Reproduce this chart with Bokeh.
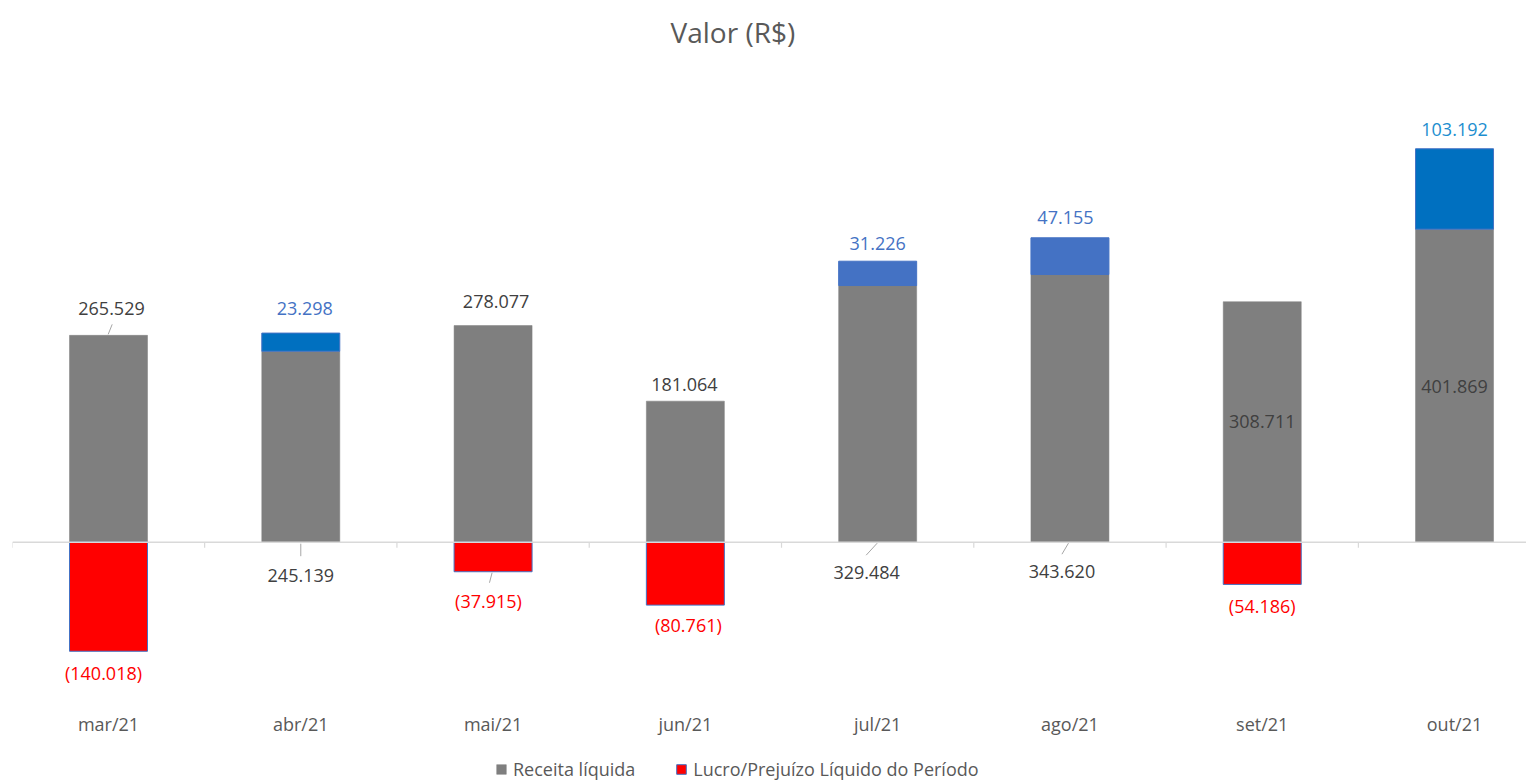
import numpy as np
from bokeh.plotting import figure
from bokeh.layouts import column
from bokeh.models import Range1d, FixedTicker, Legend, LegendItem, ColumnDataSource, Span
from bokeh.core.properties import value
from bokeh.embed import file_html
from bokeh.resources import INLINE

# ---------------- data ----------------
meses = ["mar/21", "abr/21", "mai/21", "jun/21", "jul/21", "ago/21", "set/21", "out/21"]
receita = [265529, 245139, 278077, 181064, 329484, 343620, 308711, 401869]
lucro = [-140018, 23298, -37915, -80761, 31226, 47155, -54186, 103192]
series = ["Receita líquida", "Lucro/Prejuízo Líquido do Período"]

# ---------------- styles ----------------
GRAY = "#7F7F7F"
RED = "#FF0000"
EDGE = "#4472C4"
pos_colors = {1: "#0070C0", 4: "#4472C4", 5: "#4472C4", 7: "#0070C0"}
pos_label_colors = {1: "#4472C4", 4: "#4472C4", 5: "#4472C4", 7: "#1C8ECF"}
TXT = "#404040"
FONT = "Open Sans"

# label placement styles (anchor + pixel offsets, screen px; +dy = down)
gray_anchor = ["top", "zero", "top", "top", "zero", "zero", "mid", "mid"]
gray_dx = [3, 0, 3, -1, -11, -8, 0, 0]
gray_dy = [-27, 33, -24, -17, 30, 29, 0, 1]
luc_dx = [-5, 4, -4.6, 3, 0, -4.5, 0, 0]
luc_dy = [22, -24.6, 29, 20, -18, -20.6, 22, -19.5]

W = 1526
H1, H2 = 745, 37
B_LEFT, B_RIGHT, B_TOP, B_BOTTOM = 12, 0, 60, 40
FW = W - B_LEFT - B_RIGHT
FH = H1 - B_TOP - B_BOTTOM
ZERO_FROM_TOP = 541.7 - B_TOP
CAT_PX = 192.29
xs = -96.0 / CAT_PX
xe = xs + FW / CAT_PX
PXY = 0.000779
ymax = ZERO_FROM_TOP / PXY
ymin = -(FH - ZERO_FROM_TOP) / PXY
PXX = CAT_PX  # px per x unit


def dx_data(px):
    return px / PXX


def dy_data(px):
    # screen px down -> data units
    return -px / PXY


def fmt(v):
    s = f"{abs(v):,}".replace(",", ".")
    return f"({s})" if v < 0 else s


p = figure(width=W, height=H1, output_backend="svg", toolbar_location=None,
           x_range=Range1d(xs, xe), y_range=Range1d(ymin, ymax),
           min_border_left=B_LEFT, min_border_right=B_RIGHT,
           min_border_top=B_TOP, min_border_bottom=B_BOTTOM)
p.outline_line_color = None
p.grid.visible = False
p.yaxis.visible = False
p.background_fill_color = "white"
p.border_fill_color = "white"

# title
p.title.text = "Valor (R$)"
p.title.text_font = FONT
p.title.text_font_size = "28px"
p.title.text_font_style = "normal"
p.title.text_color = "#595959"
p.title.align = "left"
p.title.offset = 658
p.title.standoff = 20

x = np.arange(len(meses))
rec = np.array(receita, dtype=float)
luc = np.array(lucro, dtype=float)

BW = 78.0 / CAT_PX

# gray bars
gray_style = dict(fill_color=GRAY, line_color=GRAY, line_width=0.5)
p.vbar(x=x, top=rec, bottom=0, width=BW, **gray_style)

# positive profit on top of revenue
pos = luc > 0
pos_idx = x[pos]
pos_src = ColumnDataSource(dict(x=pos_idx, bottom=rec[pos], top=rec[pos] + luc[pos],
                                color=[pos_colors[i] for i in pos_idx]))
p.vbar(x="x", bottom="bottom", top="top", width=BW, fill_color="color", line_color=EDGE,
       line_width=1, source=pos_src)

# negative profit below zero
red_style = dict(fill_color=RED, line_color=EDGE, line_width=1)
neg = luc < 0
neg_src = ColumnDataSource(dict(x=x[neg], bottom=luc[neg], top=np.zeros(neg.sum())))
p.vbar(x="x", bottom="bottom", top="top", width=BW, source=neg_src, **red_style)

# zero line
p.add_layout(Span(location=0, dimension="width", line_color="#D9D9D9", line_width=1.5, level="overlay"))
# category boundary ticks
bx = np.arange(len(meses) + 1) - 0.5
p.segment(x0=bx, y0=np.zeros(len(bx)), x1=bx, y1=np.full(len(bx), dy_data(5.5)),
          line_color="#D9D9D9", line_width=1.2)

# gray labels
gy = []
for i in range(len(meses)):
    a = gray_anchor[i]
    gy.append(rec[i] if a == "top" else (0 if a == "zero" else rec[i] / 2))
p.text(x=x, y=gy, text=[fmt(v) for v in receita], x_offset=gray_dx, y_offset=gray_dy,
       text_align="center", text_baseline="middle", text_font=value(FONT),
       text_font_size="18px", text_color=TXT)

# profit labels
ly = [rec[i] + luc[i] if luc[i] > 0 else luc[i] for i in range(len(meses))]
lcol = [pos_label_colors[i] if luc[i] > 0 else RED for i in range(len(meses))]
p.text(x=x, y=ly, text=[fmt(v) for v in lucro], x_offset=luc_dx, y_offset=luc_dy,
       text_align="center", text_baseline="middle", text_font=value(FONT),
       text_font_size="18px", text_color=lcol)

# leader lines (anchor index, anchor y, start px, end px)
leaders = [
    (0, rec[0], (3.7, -11), (-0.3, -1)),
    (1, 0.0, (0, 1.5), (0, 14)),
    (2, luc[2], (-1, 1), (-3.6, 11)),
    (4, 0.0, (-0.5, 1), (-11.5, 13)),
    (5, 0.0, (-1.5, 1), (-8, 12)),
]
p.segment(x0=[i + dx_data(s[0]) for i, yy, s, e in leaders],
          y0=[yy + dy_data(s[1]) for i, yy, s, e in leaders],
          x1=[i + dx_data(e[0]) for i, yy, s, e in leaders],
          y1=[yy + dy_data(e[1]) for i, yy, s, e in leaders],
          line_color="#A6A6A6", line_width=1)

# x axis (category labels)
p.xaxis.ticker = FixedTicker(ticks=list(range(len(meses))), minor_ticks=[])
p.xaxis.major_label_overrides = {i: m for i, m in enumerate(meses)}
p.xaxis.axis_line_color = None
p.xaxis.major_tick_line_color = None
p.xaxis.minor_tick_line_color = None
p.xaxis.major_tick_out = 0
p.xaxis.major_tick_in = 0
p.xaxis.major_label_text_font = FONT
p.xaxis.major_label_text_font_size = "18px"
p.xaxis.major_label_text_color = "#595959"
p.xaxis.major_label_standoff = 6

# ---------------- legend strip ----------------
# y range set far above the legend-only bars, so they lie outside the canvas
p2 = figure(width=W, height=H2, output_backend="svg", toolbar_location=None,
            x_range=Range1d(0, 1), y_range=Range1d(10, 11), min_border=0)
p2.outline_line_color = None
p2.grid.visible = False
p2.axis.visible = False
lg_gray = p2.vbar(x=[0.5], top=[0.5], bottom=[0.0], width=0.1, **gray_style)
lg_red = p2.vbar(x=[0.5], top=[0.5], bottom=[0.0], width=0.1, **red_style)
legend = Legend(items=[LegendItem(label=series[0], renderers=[lg_gray]),
                       LegendItem(label=series[1], renderers=[lg_red])],
                orientation="horizontal", location=(483, 1), margin=0, padding=0,
                spacing=40, glyph_width=12, glyph_height=12, label_standoff=6,
                label_height=20, label_text_font=FONT, label_text_font_size="18px",
                label_text_color="#595959", border_line_color=None, background_fill_alpha=0)
p2.add_layout(legend, "center")

open("out.html", "w").write(file_html(column(p, p2, spacing=0), INLINE))
